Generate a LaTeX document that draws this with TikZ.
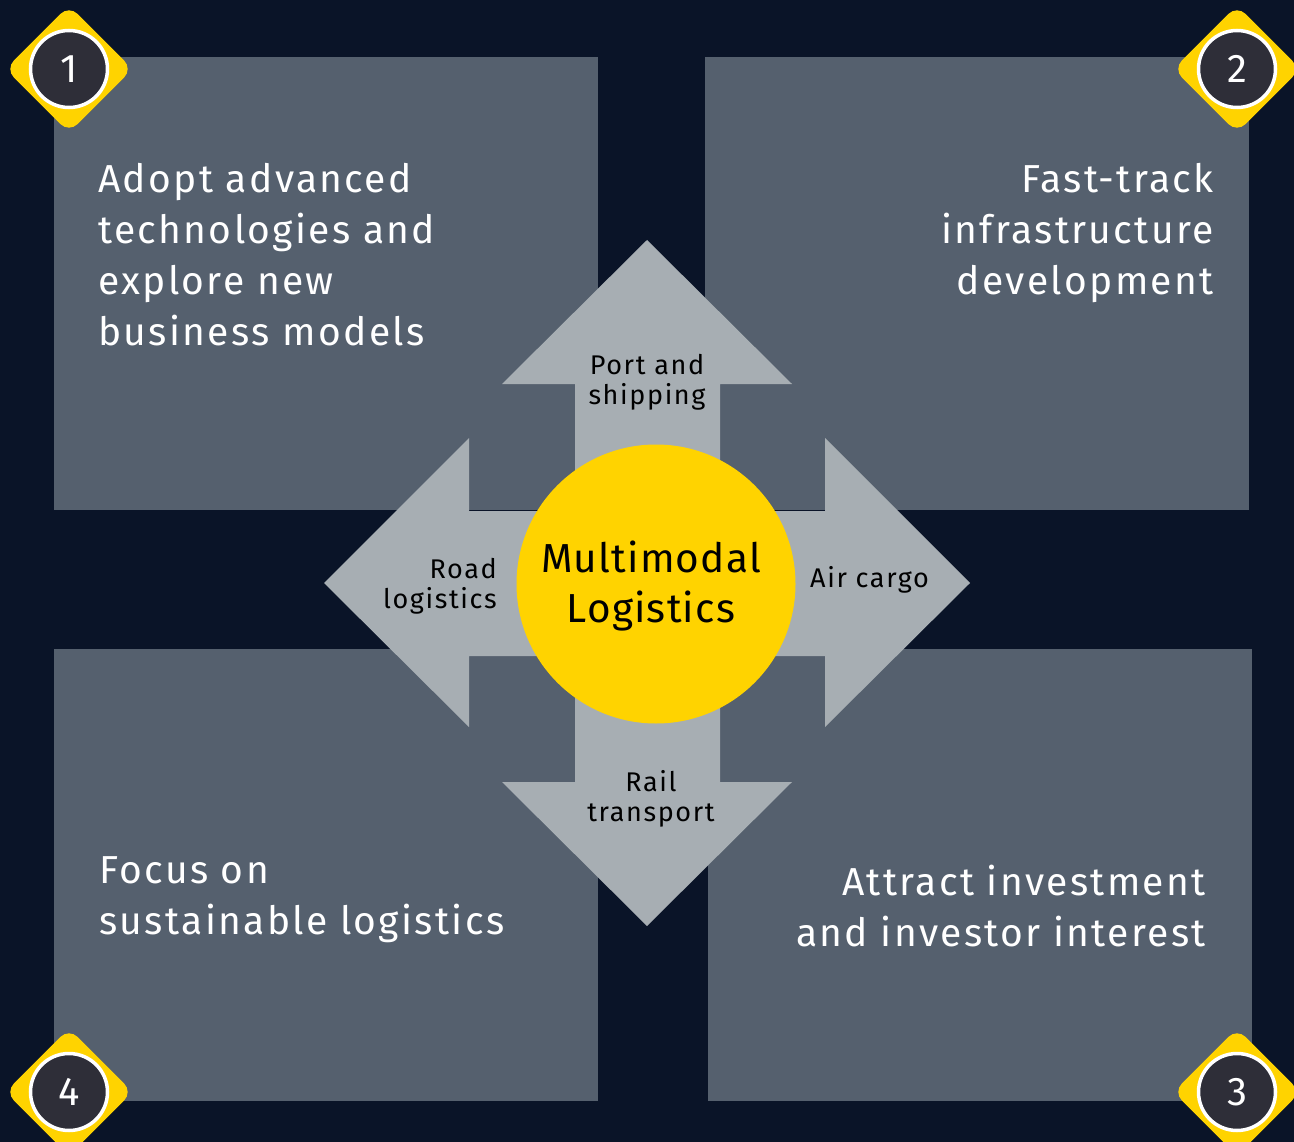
\documentclass[tikz,border=0pt]{standalone}
\usepackage{fontspec}
\setmainfont{Fira Sans}
\newfontfamily\wideface[LetterSpace=6]{Fira Sans}
\newfontfamily\midface[LetterSpace=3]{Fira Sans}
\usetikzlibrary{shapes.geometric}
\definecolor{navy}{HTML}{0A1428}
\definecolor{slate}{HTML}{55606E}
\definecolor{mist}{HTML}{A7AEB3}
\definecolor{eyyellow}{HTML}{FFD300}
\definecolor{ink}{HTML}{2E2E38}
\tikzset{
	panel/.style={fill=slate, minimum width=544pt, minimum height=452pt, inner sep=0pt},
	ptext/.style={text=white, font=\wideface\fontsize{39}{51}\selectfont, inner sep=0pt},
	alabel/.style={text=black, font=\wideface\fontsize{27}{30}\selectfont, align=center, inner sep=0pt},
	badge/.style={fill=eyyellow, rectangle, rotate=45, rounded corners=12pt, minimum size=90pt},
	num/.style={circle, fill=ink, draw=white, line width=3.5pt, minimum size=77pt, inner sep=0pt, text=white, font=\fontsize{40}{40}\selectfont},
	arrowshape/.style={fill=mist},
}
\begin{document}
\begin{tikzpicture}[x=1pt,y=-1pt]
	\fill[navy] (0,0) rectangle (1294,1142);
	\useasboundingbox (0,0) rectangle (1294,1142);

	% four panels
	\node[panel] (p1) at (326,283.5) {};
	\node[panel] (p2) at (977,283.5) {};
	\node[panel] (p3) at (980,875) {};
	\node[panel] (p4) at (326,875) {};

	% arrows
	\path[arrowshape] (575,584) -- (575,384) -- (502,384) -- (647,240) -- (792,384) -- (720,384) -- (720,584) -- cycle;
	\path[arrowshape] (575,584) -- (575,782) -- (502,782) -- (647,926) -- (792,782) -- (720,782) -- (720,584) -- cycle;
	\path[arrowshape] (647,511) -- (469,511) -- (469,438) -- (324,583) -- (469,727) -- (469,656) -- (647,656) -- cycle;
	\path[arrowshape] (647,511) -- (825,511) -- (825,438) -- (970,583) -- (825,727) -- (825,656) -- (647,656) -- cycle;

	\node[circle, fill=eyyellow, minimum size=279pt, inner sep=0pt] (hub) at (656,584) {};
	\node[alabel, font=\midface\fontsize{40.5}{50}\selectfont] (hubtext) at (651,586) {Multimodal\\Logistics};

	\node[alabel] (port) at (647,382) {Port and\\shipping};
	\node[alabel, align=right, anchor=east] (road) at (497,586) {Road\\logistics};
	\node[alabel, anchor=west] (air) at (810,580) {Air cargo};
	\node[alabel] (rail) at (651,799) {Rail\\transport};

	% panel texts
	\node[ptext, align=left, anchor=north west] (t1) at (98,163) {Adopt advanced\\technologies and\\explore new\\business models};
	\node[ptext, align=right, anchor=north east] (t2) at (1214,163) {Fast-track\\infrastructure\\development};
	\node[ptext, align=right, anchor=north east] (t3) at (1206,865) {Attract investment\\and investor interest};
	\node[ptext, align=left, anchor=north west] (t4) at (99,856) {Focus on\\sustainable logistics};

	% numbered badges
	\node[badge] (b1) at (69,69) {};
	\node[badge] (b2) at (1237,69) {};
	\node[badge] (b3) at (1237,1092) {};
	\node[badge] (b4) at (69,1092) {};
	\node[num] (n1) at (b1) {1};
	\node[num] (n2) at (b2) {2};
	\node[num] (n3) at (b3) {3};
	\node[num] (n4) at (b4) {4};
\end{tikzpicture}
\end{document}
